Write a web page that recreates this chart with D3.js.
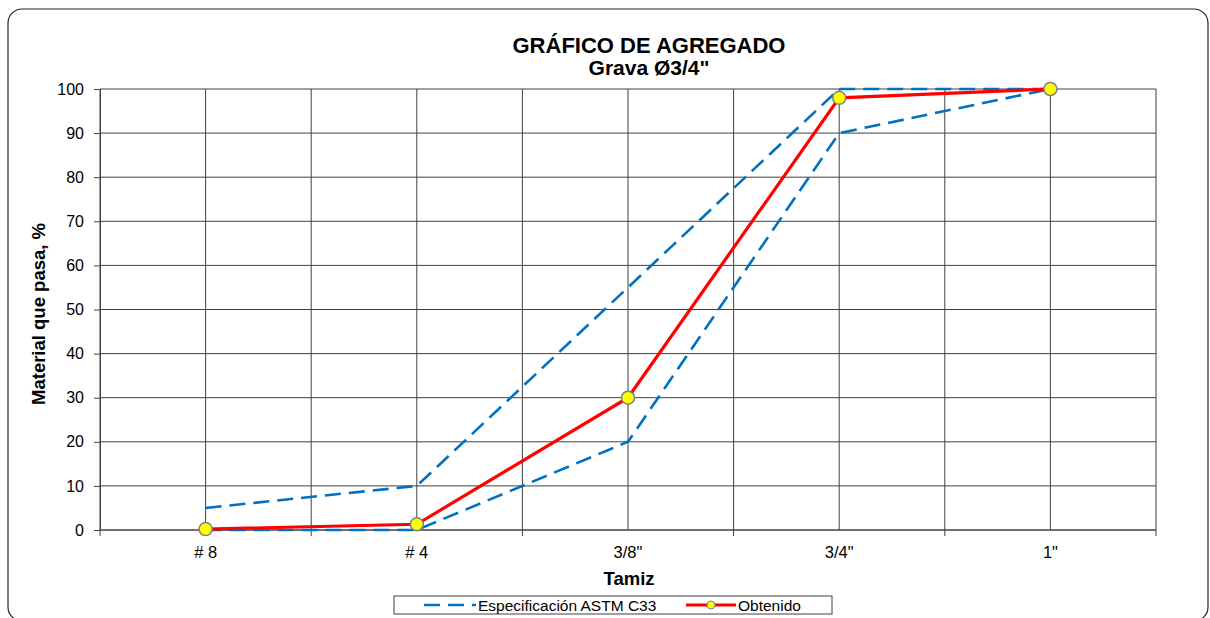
<!DOCTYPE html>
<html>
<head>
<meta charset="utf-8">
<script src="https://cdn.jsdelivr.net/npm/d3@7"></script>
<style>
  body { margin: 0; background: #fff; }
  svg { display: block; font-family: "Liberation Sans", Arial, sans-serif; }
</style>
</head>
<body>
<svg id="chart" width="1210" height="618"></svg>
<script>
// sieve sizes (x categories)
var tamices = ['# 8', '# 4', '3/8"', '3/4"', '1"'];
// ASTM C33 limits
var specUpper = [5, 10, 55, 100, 100];
var specLower = [0, 0, 20, 90, 100];
// measured passing %
var obtenido = [0.2, 1.3, 30, 98, 100];
var yTicks = [0, 10, 20, 30, 40, 50, 60, 70, 80, 90, 100];

var svg = d3.select('#chart');
var margin = {left: 100, right: 54, top: 89, bottom: 88};
var width = 1210 - margin.left - margin.right;
var height = 618 - margin.top - margin.bottom;

// rounded outer frame
svg.append('rect')
  .attr('x', 8).attr('y', 9)
  .attr('width', 1200).attr('height', 612)
  .attr('rx', 14)
  .attr('fill', '#fff')
  .attr('stroke', '#222')
  .attr('stroke-width', 1.2);

var g = svg.append('g').attr('transform', 'translate(' + margin.left + ',' + margin.top + ')');

var x = d3.scaleBand().domain(tamices).range([0, width]).padding(0);
var y = d3.scaleLinear().domain([0, 100]).range([height, 0]);
var cx = function(d, i) { return x(tamices[i]) + x.bandwidth() / 2; };

// horizontal grid
g.append('g').selectAll('line').data(yTicks).enter().append('line')
  .attr('x1', 0).attr('x2', width)
  .attr('y1', function(d) { return y(d); }).attr('y2', function(d) { return y(d); })
  .attr('stroke', '#404040').attr('stroke-width', 1);

// vertical grid at band edges and centers
var vLines = [];
tamices.forEach(function(t) { vLines.push(x(t)); vLines.push(x(t) + x.bandwidth() / 2); });
vLines.push(width);
g.append('g').selectAll('line').data(vLines).enter().append('line')
  .attr('x1', function(d) { return d; }).attr('x2', function(d) { return d; })
  .attr('y1', 0).attr('y2', height)
  .attr('stroke', '#404040').attr('stroke-width', 1);

// y axis
var yAxis = g.append('g').call(d3.axisLeft(y).tickValues(yTicks).tickSize(6).tickPadding(10));
yAxis.select('.domain').attr('stroke', '#404040');
yAxis.selectAll('line').attr('stroke', '#404040');
yAxis.selectAll('text').attr('font-size', 16).attr('fill', '#000')
  .attr('font-family', '"Liberation Sans", Arial, sans-serif');

// x axis: ticks at band edges, labels at centers
var xAxis = g.append('g').attr('transform', 'translate(0,' + height + ')');
xAxis.append('line').attr('x1', 0).attr('x2', width).attr('stroke', '#404040');
var edges = tamices.map(function(t) { return x(t); }).concat([width]);
xAxis.selectAll('.tk').data(edges).enter().append('line')
  .attr('x1', function(d) { return d; }).attr('x2', function(d) { return d; })
  .attr('y1', 0).attr('y2', 6).attr('stroke', '#404040');
xAxis.selectAll('text').data(tamices).enter().append('text')
  .attr('x', function(d) { return x(d) + x.bandwidth() / 2; })
  .attr('y', 28)
  .attr('text-anchor', 'middle')
  .attr('font-size', 16.5)
  .text(function(d) { return d; });

var line = d3.line().x(cx).y(function(d) { return y(d); });

// spec limits, dashed blue
[specUpper, specLower].forEach(function(s) {
  g.append('path').datum(s)
    .attr('d', line)
    .attr('fill', 'none')
    .attr('stroke', '#0070C0')
    .attr('stroke-width', 2.6)
    .attr('stroke-dasharray', '16,8');
});

// obtenido, red with markers
g.append('path').datum(obtenido)
  .attr('d', line)
  .attr('fill', 'none')
  .attr('stroke', '#FF0000')
  .attr('stroke-width', 3.2);
g.selectAll('.pt').data(obtenido).enter().append('circle')
  .attr('cx', cx).attr('cy', function(d) { return y(d); })
  .attr('r', 6.5)
  .attr('fill', '#FFFF00')
  .attr('stroke', '#808080')
  .attr('stroke-width', 1.5);

// titles
svg.append('text').attr('x', 649).attr('y', 53).attr('text-anchor', 'middle')
  .attr('font-size', 22).attr('font-weight', 'bold').text('GRÁFICO DE AGREGADO');
svg.append('text').attr('x', 649).attr('y', 75).attr('text-anchor', 'middle')
  .attr('font-size', 21).attr('font-weight', 'bold').text('Grava Ø3/4"');
svg.append('text').attr('x', 629).attr('y', 585).attr('text-anchor', 'middle')
  .attr('font-size', 18.5).attr('font-weight', 'bold').text('Tamiz');
svg.append('text')
  .attr('transform', 'translate(45,' + 314 + ') rotate(-90)')
  .attr('text-anchor', 'middle')
  .attr('font-size', 18.5).attr('font-weight', 'bold').text('Material que pasa, %');

// legend
var leg = svg.append('g');
leg.append('rect').attr('x', 394).attr('y', 596).attr('width', 438).attr('height', 18)
  .attr('fill', '#fff').attr('stroke', '#404040').attr('stroke-width', 1);
leg.append('line').attr('x1', 424).attr('x2', 476).attr('y1', 605).attr('y2', 605)
  .attr('stroke', '#0070C0').attr('stroke-width', 2.6).attr('stroke-dasharray', '16,8');
leg.append('text').attr('x', 478).attr('y', 611).attr('font-size', 15.5).text('Especificación ASTM C33');
leg.append('line').attr('x1', 686).attr('x2', 736).attr('y1', 605).attr('y2', 605)
  .attr('stroke', '#FF0000').attr('stroke-width', 3.2);
leg.append('circle').attr('cx', 711).attr('cy', 605).attr('r', 4)
  .attr('fill', '#FFFF00').attr('stroke', '#808080').attr('stroke-width', 1);
leg.append('text').attr('x', 738).attr('y', 611).attr('font-size', 15.5).text('Obtenido');
</script>
</body>
</html>
